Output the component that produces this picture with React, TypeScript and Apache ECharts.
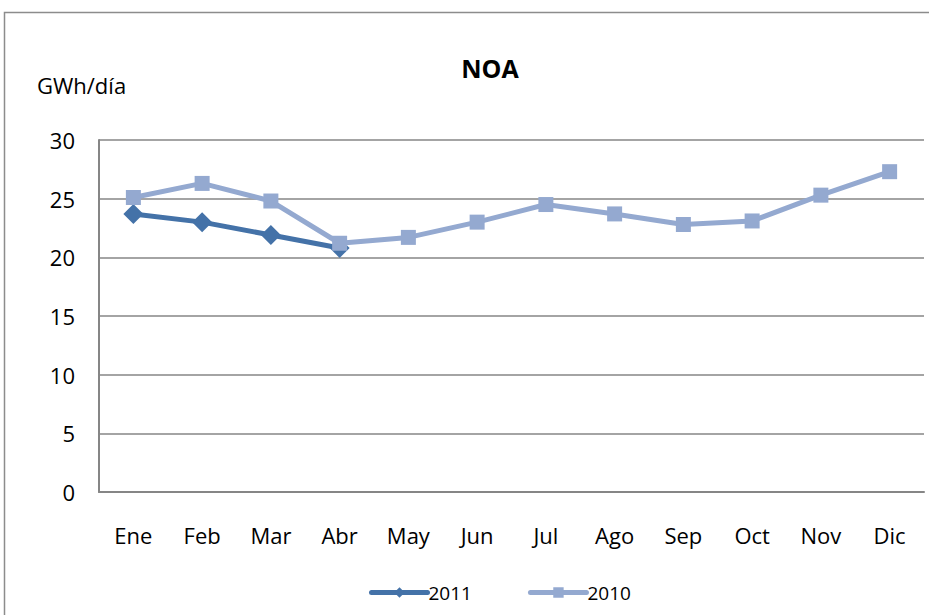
import React, { useEffect, useRef } from "react";
import * as echarts from "echarts";

const categories = ["Ene", "Feb", "Mar", "Abr", "May", "Jun", "Jul", "Ago", "Sep", "Oct", "Nov", "Dic"];
const series2011 = [23.7, 23.0, 21.9, 20.8];
const series2010 = [25.1, 26.3, 24.8, 21.2, 21.7, 23.0, 24.5, 23.7, 22.8, 23.1, 25.3, 27.3];
const yTicks = { min: 0, max: 30, interval: 5 };

const FONT = "'Open Sans', Lato, sans-serif";

export default function App() {
  const ref = useRef<HTMLDivElement>(null);
  useEffect(() => {
    document.body.style.margin = "0";
    const chart = echarts.init(ref.current!, null, { renderer: "svg" });
    chart.setOption({
      animation: false,
      backgroundColor: "#ffffff",
      textStyle: { fontFamily: FONT, color: "#000" },
      title: {
        text: "NOA",
        left: 485,
        top: 50,
        textAlign: "center",
        textStyle: { fontFamily: FONT, fontSize: 25, fontWeight: "bold", color: "#000" },
      },
      graphic: [
        {
          type: "rect",
          shape: { x: 4.5, y: 12.5, width: 940, height: 620 },
          style: { fill: "none", stroke: "#8c8c8c", lineWidth: 1.5 },
          silent: true,
        },
        {
          type: "text",
          x: 37,
          y: 74,
          style: { text: "GWh/día", fontFamily: FONT, fontSize: 22, fill: "#000" },
        },
      ],
      legend: {
        left: 364,
        top: 578,
        itemWidth: 56,
        itemHeight: 13,
        itemGap: 56,
        lineStyle: { width: 5, cap: "round" },
        textStyle: { fontFamily: FONT, fontSize: 19, color: "#000", padding: [0, 0, 0, -4] },
        data: ["2011", "2010"],
      },
      grid: { left: 99, top: 140, right: 5, bottom: 123, containLabel: false },
      xAxis: {
        type: "category",
        data: categories,
        boundaryGap: true,
        axisLine: { lineStyle: { color: "#868686", width: 2 } },
        axisTick: { show: false },
        axisLabel: { fontFamily: FONT, fontSize: 22, color: "#000", margin: 32 },
        splitLine: { show: false },
      },
      yAxis: {
        type: "value",
        min: yTicks.min,
        max: yTicks.max,
        interval: yTicks.interval,
        axisLine: { show: true, lineStyle: { color: "#868686", width: 2 } },
        axisTick: { show: false },
        axisLabel: { fontFamily: FONT, fontSize: 22, color: "#000", margin: 24 },
        splitLine: { lineStyle: { color: "#868686", width: 1.5 } },
      },
      series: [
        {
          name: "2011",
          type: "line",
          data: series2011,
          symbol: "diamond",
          symbolSize: 20,
          lineStyle: { color: "#4472a8", width: 5 },
          itemStyle: { color: "#4472a8" },
          z: 2,
        },
        {
          name: "2010",
          type: "line",
          data: series2010,
          symbol: "rect",
          symbolSize: 15,
          lineStyle: { color: "#94a9d0", width: 5 },
          itemStyle: { color: "#94a9d0" },
          z: 3,
        },
      ],
    });
    return () => chart.dispose();
  }, []);
  return <div ref={ref} style={{ width: 929, height: 615, position: "absolute", left: 0, top: 0 }} />;
}
